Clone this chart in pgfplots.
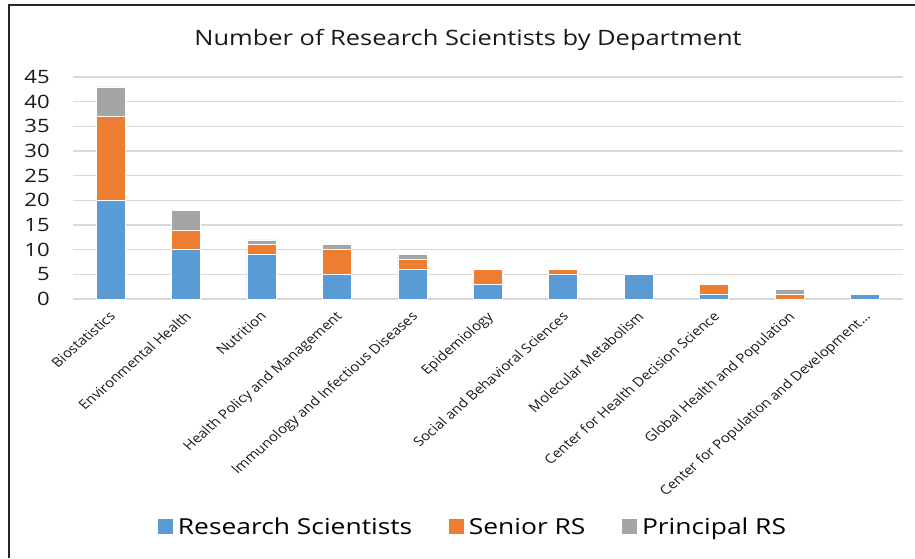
\documentclass[border=0pt]{standalone}
\usepackage{pgfplots}
\pgfplotsset{compat=1.18}
\usepackage{fontspec}
\setmainfont{Open Sans}[FakeStretch=1.2]
\newfontfamily\labfont{Open Sans}
\definecolor{rsblue}{HTML}{5B9BD5}
\definecolor{rsorange}{HTML}{ED7D31}
\definecolor{rsgray}{HTML}{A5A5A5}
\definecolor{gridc}{HTML}{D9D9D9}
\begin{document}
\begin{tikzpicture}
\path[use as bounding box] (0,0) rectangle (457.5pt,279pt);
\draw[line width=1.1pt, black!85] (4.5pt,0pt) -- (4.5pt,276.5pt) -- (457.5pt,276.5pt);
\node[font=\fontsize{10.6}{13}\selectfont, text=black!90] at (234pt,259pt) {Number of Research Scientists by Department};
\begin{axis}[
  at={(36.4pt,129.5pt)}, anchor=south west,
  scale only axis, width=415pt, height=111pt,
  ybar stacked, bar width=14.5pt,
  xmin=-0.5, xmax=10.5, ymin=0, ymax=45,
  ytick={0,5,...,45},
  xtick={0,...,10},
  xticklabels={Biostatistics,Environmental Health,Nutrition,Health Policy and Management,Immunology and Infectious Diseases,Epidemiology,Social and Behavioral Sciences,Molecular Metabolism,Center for Health Decision Science,Global Health and Population,Center for Population and Development\dots},
  x tick label style={xshift=-1pt, yshift=-4.8pt, xscale=1.15, rotate=45, anchor=north east, font=\labfont\fontsize{6.5}{7}\selectfont, text=black!90, inner sep=0.5pt},
  y tick label style={font=\fontsize{9.2}{10}\selectfont, text=black!90, xshift=-8pt},
  /pgf/number format/assume math mode=true,
  major tick length=0pt,
  axis x line*=bottom, axis y line*=left,
  x axis line style={draw=gridc, line width=0.6pt},
  y axis line style={draw=none},
  ymajorgrids, grid style={draw=gridc, line width=0.6pt},
  legend columns=3,
  legend style={draw=none, at={(0.483,-1.03)}, anchor=center, font=\fontsize{11}{13}\selectfont, /tikz/every even column/.append style={column sep=16pt}},
  legend image code/.code={\fill[#1] (0pt,-3.5pt) rectangle (8pt,4.5pt);},
]
\addplot+[fill=rsblue, draw=white, line width=0.3pt] coordinates {(0,20) (1,10) (2,9) (3,5) (4,6) (5,3) (6,5) (7,5) (8,1) (9,0) (10,1)};
\addplot+[fill=rsorange, draw=white, line width=0.3pt] coordinates {(0,17) (1,4) (2,2) (3,5) (4,2) (5,3) (6,1) (7,0) (8,2) (9,1) (10,0)};
\addplot+[fill=rsgray, draw=white, line width=0.3pt] coordinates {(0,6) (1,4) (2,1) (3,1) (4,1) (5,0) (6,0) (7,0) (8,0) (9,1) (10,0)};
\legend{Research Scientists, Senior RS, Principal RS}
\end{axis}
\end{tikzpicture}
\end{document}
